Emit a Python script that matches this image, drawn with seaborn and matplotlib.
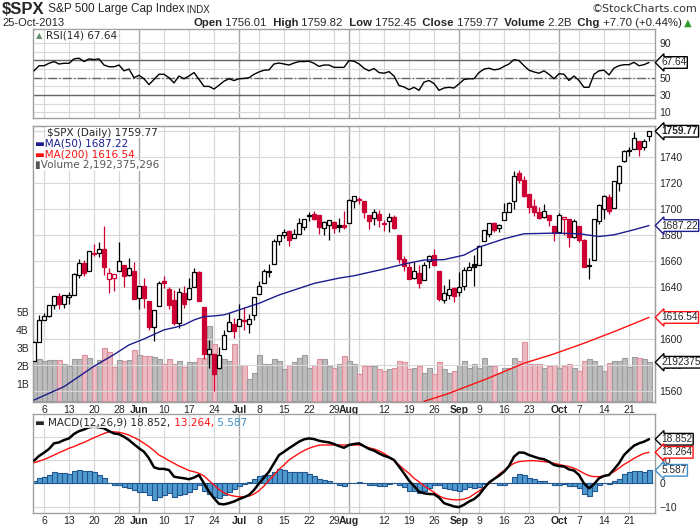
import numpy as np
import pandas as pd
import matplotlib
matplotlib.use("Agg")
import matplotlib.pyplot as plt
import seaborn as sns

# ---- values ($SPX daily, 2-May-2013 .. 25-Oct-2013) ----
opens = [
    1582.77, 1597.60, 1614.40, 1617.55, 1625.95, 1632.69, 1626.69, 1632.10, 1633.75, 1649.13,
    1658.07, 1652.45, 1665.71, 1666.20, 1669.39, 1646.08, 1646.67, 1652.63, 1656.57, 1649.14,
    1652.13, 1631.71, 1640.73, 1629.05, 1609.29, 1625.27, 1644.67, 1638.64, 1629.94, 1612.15,
    1635.52, 1630.64, 1639.77, 1651.83, 1624.62, 1588.62, 1588.77, 1577.52, 1592.27, 1606.44,
    1611.12, 1609.78, 1614.29, 1611.48, 1618.65, 1634.20, 1642.89, 1651.56, 1657.41, 1675.26,
    1679.59, 1682.70, 1677.91, 1681.05, 1686.15, 1694.41, 1696.06, 1695.52, 1685.21, 1687.31,
    1690.32, 1687.92, 1687.76, 1689.42, 1706.10, 1708.01, 1705.79, 1695.30, 1693.35, 1696.10,
    1688.37, 1690.65, 1693.88, 1679.61, 1661.22, 1655.25, 1646.81, 1650.66, 1645.03, 1659.92,
    1664.29, 1652.54, 1630.25, 1633.50, 1638.89, 1635.95, 1640.72, 1653.28, 1657.44, 1656.85,
    1675.11, 1681.04, 1689.21, 1685.04, 1691.70, 1697.73, 1705.74, 1727.34, 1722.44, 1711.44,
    1702.60, 1698.02, 1694.05, 1695.52, 1687.26, 1682.41, 1691.90, 1692.35, 1678.79, 1687.15,
    1676.22, 1656.99, 1660.88, 1691.09, 1699.86, 1709.17, 1700.49, 1720.17, 1736.72, 1745.20,
    1746.48, 1752.27, 1747.48, 1756.01]
highs = [
    1598.60, 1618.46, 1619.77, 1626.03, 1632.78, 1635.01, 1633.70, 1636.00, 1651.10, 1661.49,
    1660.51, 1667.47, 1672.84, 1674.93, 1687.18, 1654.19, 1649.78, 1674.21, 1656.57, 1661.91,
    1658.99, 1640.42, 1646.53, 1629.31, 1622.56, 1644.40, 1648.69, 1640.13, 1637.71, 1639.25,
    1640.80, 1646.50, 1654.19, 1652.45, 1624.62, 1599.19, 1588.77, 1593.79, 1606.83, 1620.07,
    1615.94, 1626.61, 1624.26, 1618.97, 1632.07, 1644.68, 1654.18, 1657.92, 1676.63, 1680.19,
    1684.51, 1683.73, 1684.75, 1693.12, 1692.09, 1697.61, 1698.38, 1695.52, 1690.94, 1691.85,
    1690.92, 1693.19, 1698.43, 1707.85, 1709.67, 1709.24, 1705.79, 1695.30, 1700.18, 1699.42,
    1691.49, 1696.81, 1695.52, 1679.61, 1663.60, 1659.18, 1658.92, 1656.99, 1659.55, 1664.85,
    1669.51, 1652.54, 1641.18, 1646.41, 1640.08, 1651.35, 1655.72, 1659.17, 1664.83, 1672.40,
    1684.09, 1689.13, 1689.97, 1688.73, 1704.95, 1705.52, 1729.44, 1729.86, 1725.23, 1711.44,
    1707.63, 1701.71, 1703.85, 1695.52, 1687.26, 1696.55, 1693.87, 1692.35, 1691.94, 1687.15,
    1676.79, 1662.40, 1692.56, 1703.44, 1711.03, 1711.57, 1721.76, 1733.45, 1745.31, 1747.79,
    1759.33, 1752.27, 1753.55, 1759.82]
lows = [
    1582.77, 1597.60, 1614.21, 1616.64, 1622.70, 1623.09, 1623.71, 1626.74, 1633.75, 1646.68,
    1648.60, 1652.45, 1663.52, 1662.67, 1648.86, 1635.53, 1636.88, 1652.63, 1640.05, 1648.61,
    1630.74, 1622.72, 1623.62, 1607.09, 1598.23, 1625.27, 1639.26, 1622.92, 1610.92, 1608.07,
    1623.96, 1630.34, 1639.77, 1628.91, 1584.32, 1577.70, 1560.33, 1577.09, 1592.27, 1606.44,
    1601.06, 1609.78, 1606.77, 1604.57, 1614.71, 1634.20, 1642.89, 1647.66, 1657.41, 1672.33,
    1677.89, 1671.84, 1677.91, 1681.05, 1684.08, 1690.67, 1691.13, 1680.88, 1680.07, 1676.03,
    1681.86, 1682.42, 1684.94, 1689.42, 1700.68, 1703.55, 1693.29, 1684.91, 1687.36, 1686.02,
    1683.35, 1682.62, 1684.83, 1658.59, 1652.61, 1645.84, 1646.08, 1639.43, 1645.03, 1654.81,
    1656.02, 1629.05, 1627.47, 1630.88, 1628.05, 1633.41, 1637.41, 1653.07, 1640.62, 1656.85,
    1675.11, 1678.70, 1681.96, 1682.22, 1691.70, 1697.73, 1700.18, 1720.20, 1708.89, 1697.10,
    1694.90, 1691.88, 1693.11, 1687.11, 1674.99, 1682.07, 1680.34, 1670.36, 1677.33, 1674.70,
    1655.03, 1646.47, 1660.88, 1688.52, 1692.13, 1695.93, 1700.49, 1714.12, 1735.74, 1740.67,
    1746.48, 1740.50, 1745.50, 1752.45]
closes = [
    1597.59, 1614.42, 1617.50, 1625.96, 1632.69, 1626.67, 1633.70, 1633.77, 1650.34, 1658.78,
    1650.47, 1667.47, 1666.29, 1669.16, 1655.35, 1650.51, 1649.60, 1660.06, 1648.36, 1654.41,
    1630.74, 1640.42, 1631.38, 1608.90, 1622.56, 1643.38, 1642.81, 1626.13, 1612.52, 1636.36,
    1626.73, 1639.04, 1651.81, 1628.93, 1588.19, 1592.43, 1573.09, 1588.03, 1603.26, 1613.20,
    1606.28, 1614.96, 1614.08, 1615.41, 1631.89, 1640.46, 1652.32, 1652.62, 1675.02, 1680.19,
    1682.50, 1676.26, 1680.91, 1689.37, 1692.09, 1695.53, 1692.39, 1685.94, 1690.25, 1691.65,
    1685.33, 1685.96, 1685.73, 1706.87, 1709.67, 1707.14, 1697.37, 1690.91, 1697.48, 1691.42,
    1689.47, 1694.16, 1685.39, 1661.32, 1655.83, 1646.06, 1652.35, 1642.80, 1656.96, 1663.50,
    1656.78, 1630.48, 1634.96, 1638.17, 1632.97, 1639.77, 1653.08, 1655.08, 1655.17, 1671.71,
    1683.99, 1689.13, 1683.42, 1687.99, 1697.60, 1704.76, 1725.52, 1722.34, 1709.91, 1701.84,
    1697.42, 1692.77, 1698.67, 1691.75, 1681.55, 1695.00, 1693.87, 1678.66, 1690.50, 1676.12,
    1655.45, 1656.40, 1692.56, 1703.20, 1710.14, 1698.06, 1721.54, 1733.15, 1744.50, 1744.66,
    1754.67, 1746.38, 1752.07, 1759.77]
# volume in billions of shares
volumes = [
    2.40, 2.40, 2.27, 2.34, 2.34, 2.34, 2.10, 2.00, 2.40, 2.40,
    2.60, 2.45, 2.05, 2.30, 3.00, 2.78, 1.90, 2.30, 2.25, 2.30,
    2.85, 2.60, 2.55, 2.55, 2.50, 2.40, 2.10, 2.40, 2.10, 2.25,
    1.90, 2.20, 2.20, 2.45, 2.45, 4.20, 3.20, 2.45, 2.40, 2.25,
    3.20, 2.05, 2.05, 1.23, 1.60, 2.62, 2.10, 2.10, 2.35, 2.25,
    1.79, 2.05, 2.18, 2.42, 2.62, 1.88, 2.05, 2.35, 2.35, 2.00,
    1.88, 2.10, 2.55, 2.29, 2.07, 1.55, 1.96, 1.96, 2.00, 1.83,
    1.70, 1.83, 1.85, 2.24, 2.18, 1.79, 1.88, 1.96, 1.60, 1.85,
    1.55, 2.18, 1.81, 1.60, 1.73, 2.05, 2.29, 1.88, 2.07, 1.88,
    2.44, 1.96, 1.96, 1.60, 1.88, 1.88, 2.44, 2.24, 3.30, 2.10,
    2.07, 2.07, 1.88, 1.99, 2.05, 1.88, 1.96, 2.10, 1.88, 1.73,
    2.29, 2.35, 2.24, 1.99, 1.68, 2.16, 2.29, 2.25, 2.44, 1.92,
    2.51, 2.44, 2.38, 2.192375296]
rsi = [
    58, 63.9, 63.9, 66.7, 68.7, 65.9, 66.7, 66.7, 71.8, 72.6,
    68.7, 71.8, 71, 71.8, 64.7, 62.7, 62.7, 64.7, 58, 60,
    50, 52.8, 48.8, 42.1, 48, 54, 54, 50, 44, 52,
    48.8, 52, 56, 48, 40, 40, 36.9, 41.3, 46, 48.8,
    46.8, 48.8, 49.2, 50, 54, 56.7, 58.7, 59.1, 65.9, 67,
    65.9, 64.7, 67, 68.7, 68.7, 69.1, 66.7, 63.1, 64.7, 64.7,
    62, 62, 62, 69.8, 69.1, 66, 61, 58, 60.7, 56,
    55.2, 57.1, 52, 41, 39.3, 36.2, 38.9, 35.4, 44.9, 46.8,
    43.3, 35.4, 38.1, 38.9, 38.1, 42.9, 48, 48.8, 48.8, 56,
    60, 61.1, 59.1, 60, 63.1, 65.9, 71, 69.8, 63.9, 58.7,
    56.7, 55.2, 58, 54, 48.8, 54.7, 54, 46.8, 52, 46.8,
    38.9, 38.9, 54, 58, 58.7, 53.2, 61.1, 63.9, 65.1, 65.1,
    67.8, 63.9, 65.1, 67.64]
macd = [
    9.7, 11.7, 13.1, 14.7, 17.1, 17.5, 18.5, 19.2, 21.1, 22.3,
    23, 23.9, 24.2, 23.9, 23.5, 22.3, 21.3, 21, 19.9, 18.5,
    16.7, 15, 13.5, 10.7, 6.9, 6.2, 6.2, 5.7, 2.9, 2.5,
    2.2, 1.8, 2.5, 3.6, 0, -3.5, -6.3, -8.7, -8.9, -8.4,
    -7.7, -6.7, -5.9, -4.9, -2.8, 0, 2.5, 5, 8.6, 12.1,
    13.5, 15, 16.4, 17.8, 18.8, 19.2, 18.9, 18.2, 17.8, 17.5,
    16.8, 15.9, 15.2, 16.4, 16.8, 17.1, 15.9, 14.7, 14, 12.8,
    11.8, 11.1, 10, 7.2, 4.3, 1.2, -1.1, -3.5, -4.2, -4.5,
    -4.6, -6, -8.4, -9.1, -9.8, -10.1, -9.1, -7.7, -6.7, -4.9,
    -2.1, 0.4, 1.9, 3.3, 5, 7.4, 11.4, 13.2, 13.1, 12.1,
    11.4, 10.7, 10.3, 9.3, 7.9, 7.4, 7.2, 6, 5.5, 3.6,
    0, -2.1, -0.3, 2.2, 3.2, 3.6, 6, 8.6, 12.1, 14.2,
    16.1, 17.1, 17.8, 18.852]
signal = [
    8.8, 9.5, 10.2, 11.1, 12.1, 13.1, 14, 15, 15.7, 16.7,
    17.5, 18.5, 19.5, 20.4, 21.3, 22, 22, 21.8, 21.3, 20.6,
    19.6, 18.5, 17.1, 15.7, 14, 12.1, 11, 9.7, 8.6, 7.4,
    6.5, 5.5, 5, 4.3, 3.2, 1.2, -0.7, -2.6, -4, -4.9,
    -5.4, -5.7, -5.7, -5.4, -4.5, -3.1, -1.1, 1.4, 3.6, 6,
    7.9, 10, 11.4, 12.8, 14, 15, 15.7, 16.3, 16.4, 16.4,
    16.4, 16.4, 16.4, 16.4, 16.4, 16.4, 15.9, 15.2, 14.7, 13.9,
    12.8, 11.4, 9.7, 7.9, 6, 4.3, 2.2, 0.7, -1, -2.4,
    -3.8, -5.3, -6.3, -6.7, -7, -7, -6.7, -6, -4.6, -3.2,
    -1.7, 0, 1.8, 3.9, 5.5, 7.2, 8.6, 9.3, 9.5, 9.7,
    9.7, 9.5, 9.3, 9, 8.6, 8.1, 7.6, 7.2, 6.5, 5.5,
    4.3, 3.3, 2.9, 2.9, 3.2, 3.9, 5, 6.5, 8.1, 9.3,
    10.7, 11.8, 12.8, 13.264]
# moving averages, read at a handful of trading-day positions
ma50_day = [0, 6, 12, 16, 19, 22, 26, 28, 30, 32, 34, 36, 38, 40, 42, 45, 49, 56, 61, 64,
            70, 74, 78, 82, 86, 89, 94, 98, 104, 109, 113, 116, 120, 123]
ma50 = [1553.0, 1563.3, 1579.0, 1588.0, 1595.4, 1600.0, 1607.0, 1608.7, 1610.8, 1614.6,
        1617.2, 1617.7, 1618.5, 1621.0, 1623.6, 1627.4, 1633.8, 1642.7, 1646.8, 1648.6,
        1653.8, 1657.6, 1660.7, 1661.0, 1664.5, 1670.6, 1677.0, 1680.9, 1681.4, 1680.9,
        1678.8, 1680.1, 1684.0, 1687.22]
ma200_day = [78, 82, 83, 90, 98, 104, 110, 116, 123]
ma200 = [1552.0, 1556.9, 1558.2, 1568.5, 1581.3, 1588.5, 1596.7, 1605.6, 1616.54]
hist_last = 5.587

holidays = ['2013-05-27', '2013-07-04', '2013-09-02']

# ---- trading calendar ----
dates = pd.bdate_range('2013-05-02', '2013-10-25')
dates = dates[~dates.isin(pd.to_datetime(holidays))]
n = len(dates)
x = np.arange(n)

df = pd.DataFrame({'open': opens, 'high': highs, 'low': lows, 'close': closes,
                   'volume': volumes, 'rsi': rsi, 'macd': macd, 'signal': signal}, index=dates)
df['hist'] = df['macd'] - df['signal']
df['down'] = df['close'] < df['close'].shift(1).fillna(df['open'])
df['filled'] = df['close'] < df['open']

RED = '#cc0033'
GRID = '#d8d8d8'
MONTH_GRID = '#a8a8a8'
FRAME = '#a0a0a0'

sns.set_style('white')
plt.rcParams['font.family'] = ['Liberation Sans', 'DejaVu Sans']
LEG = ['DejaVu Sans']

# tick positions: first trading day of each month / week
new_month = [i for i in range(1, n) if dates[i].month != dates[i - 1].month]
new_week = [i for i in range(1, n) if dates[i].weekday() < dates[i - 1].weekday()]
week_lbl = [i for i in new_week if min(abs(i - m) for m in new_month) >= 3]
week_grid = [i for i in new_week if min(abs(i - m) for m in new_month) >= 2]
tick_pos = sorted(new_month + week_lbl)
tick_lab = [dates[i].strftime('%b') if i in new_month else str(dates[i].day) for i in tick_pos]

fig = plt.figure(figsize=(7, 5.3), dpi=100)
W, H = 700, 530
left, width = 33 / W, 622 / W
ax_r = fig.add_axes([left, 1 - 118 / H, width, 89 / H])
ax_v = fig.add_axes([left, 1 - 402 / H, width, 276 / H])
ax_p = ax_v.twinx()
ax_m = fig.add_axes([left, 1 - 513 / H, width, 99 / H])


def panel(ax):
    ax.set_xlim(-0.2, n + 0.2)
    for i in week_grid:
        ax.axvline(i, color=GRID, lw=0.9, zorder=0)
    for i in new_month:
        ax.axvline(i, color=MONTH_GRID, lw=1.0, zorder=0)
    for s in ax.spines.values():
        s.set_color(FRAME)
        s.set_linewidth(1)
    ax.tick_params(length=0, labelsize=7.5, pad=3)


def date_ticks(ax):
    ax.set_xticks(tick_pos)
    ax.set_xticklabels(tick_lab)
    for lab in ax.get_xticklabels():
        if lab.get_text().isalpha():
            lab.set_fontweight('bold')
    ax.tick_params(axis='x', pad=2)


def tag(ax, yval, text, edge, ytrans=None, bold=False):
    ax.annotate(text, xy=(1, yval), xycoords=('axes fraction', ytrans if ytrans else ax.transData),
                xytext=(4.5, 0), textcoords='offset points', ha='left', va='center',
                fontsize=7.3, fontweight='bold' if bold else 'normal', annotation_clip=False,
                bbox=dict(boxstyle='larrow,pad=0.08', fc='white', ec=edge, lw=1), zorder=20)


# ---- RSI panel ----
panel(ax_r)
ax_r.set_ylim(3.4, 106.4)
for v in range(10, 100, 10):
    ax_r.axhline(v, color=GRID, lw=0.8, zorder=0)
ax_r.axhline(70, color='#666666', lw=1, zorder=1)
ax_r.axhline(30, color='#666666', lw=1, zorder=1)
ax_r.axhline(50, color='#666666', lw=1, ls='-.', zorder=1)
sns.lineplot(x=x, y=df['rsi'].values, ax=ax_r, color='black', lw=1, zorder=3)
ax_r.yaxis.tick_right()
ax_r.set_yticks([10, 30, 50, 90])
ax_r.set_xticks([])
ax_r.text(0.004, 0.93, '▲', transform=ax_r.transAxes, fontsize=6, color='#6b8f6b',
          family=LEG, va='center', ha='left')
ax_r.text(0.021, 0.93, f'RSI(14) {rsi[-1]:.2f}', transform=ax_r.transAxes, fontsize=7.5,
          family=LEG, va='center', ha='left',
          bbox=dict(fc='white', ec='none', pad=0.5))
tag(ax_r, rsi[-1], f'{rsi[-1]:.2f}', 'black')

# ---- price + volume panel ----
panel(ax_v)
vol_face = np.where(df['down'], '#ebbac2', '#bcbcbc')
vol_edge = np.where(df['down'], '#dd8f9c', '#9c9c9c')
ax_v.bar(x, df['volume'], width=1.0, color=vol_face, edgecolor=vol_edge, lw=0.8, zorder=1)
ax_v.set_ylim(-0.03, 15.4)
ax_v.set_yticks([1, 2, 3, 4, 5])
ax_v.set_yticklabels([f'{v}B' for v in range(1, 6)])
date_ticks(ax_v)

ax_p.set_ylim(1551.5, 1763.8)
for v in range(1560, 1761, 20):
    ax_p.axhline(v, color=GRID, lw=0.8, zorder=0)
line_col = np.where(df['down'], RED, 'black')
face_col = [c if f else 'white' for c, f in zip(line_col, df['filled'])]
ax_p.vlines(x, df['low'], df['high'], colors=line_col, lw=0.9, zorder=3)
body_low = np.minimum(df['open'], df['close'])
body_h = np.maximum((df['close'] - df['open']).abs(), 0.35)
ax_p.bar(x, body_h, bottom=body_low, width=0.75, color=face_col, edgecolor=line_col,
         lw=0.9, zorder=4)
sns.lineplot(x=ma50_day, y=ma50, ax=ax_p, color='#1c1c8f', lw=1, zorder=5)
sns.lineplot(x=ma200_day, y=ma200, ax=ax_p, color='#ff1010', lw=1, zorder=5)
# 1620 sits under the MA(200) tag in the original, so it is left out
ax_p.set_yticks([v for v in range(1560, 1741, 20) if v != 1620])
ax_p.tick_params(length=0, labelsize=7.5, pad=3)
for s in ax_p.spines.values():
    s.set_color(FRAME)
ax_p.set_ylabel('')

leg_y = [0.975, 0.935, 0.895, 0.857]
ax_p.text(0.022, leg_y[0], f'\\$SPX (Daily) {closes[-1]:.2f}', transform=ax_p.transAxes,
          fontsize=7.5, family=LEG, va='center', zorder=15,
          bbox=dict(fc='white', ec='none', pad=0.4, alpha=0.85))
ax_p.text(0.003, leg_y[1], f'▬MA(50) {ma50[-1]:.2f}', transform=ax_p.transAxes, color='#1c1c8f',
          fontsize=7.5, family=LEG, va='center', zorder=15,
          bbox=dict(fc='white', ec='none', pad=0.4, alpha=0.85))
ax_p.text(0.003, leg_y[2], f'▬MA(200) {ma200[-1]:.2f}', transform=ax_p.transAxes, color='#ff1010',
          fontsize=7.5, family=LEG, va='center', zorder=15,
          bbox=dict(fc='white', ec='none', pad=0.4, alpha=0.85))
ax_p.text(0.003, leg_y[3], f'▮Volume {volumes[-1] * 1e9:,.0f}', transform=ax_p.transAxes,
          color='#555555', fontsize=7.5, family=LEG, va='center', zorder=15,
          bbox=dict(fc='white', ec='none', pad=0.4, alpha=0.85))

tag(ax_p, closes[-1], f'{closes[-1]:.2f}', 'black', bold=True)
tag(ax_p, ma50[-1], f'{ma50[-1]:.2f}', '#1c1c8f')
tag(ax_p, ma200[-1], f'{ma200[-1]:.2f}', '#ff1010')
tag(ax_p, volumes[-1], f'{volumes[-1] * 1e6:.0f}', 'black', ytrans=ax_v.transData)

# ---- MACD panel ----
panel(ax_m)
ax_m.set_ylim(-12.6, 29.6)
for v in (-10, 0, 10, 20):
    ax_m.axhline(v, color=GRID, lw=0.8, zorder=0)
ax_m.bar(x, df['hist'], width=1.0, color='#4f9bd0', edgecolor='#23568f', lw=0.8, zorder=2)
sns.lineplot(x=x, y=df['signal'].values, ax=ax_m, color='#ff1010', lw=1, zorder=3)
sns.lineplot(x=x, y=df['macd'].values, ax=ax_m, color='black', lw=1.8, zorder=4)
ax_m.yaxis.tick_right()
ax_m.set_yticks([-10, 0, 10])
date_ticks(ax_m)
t = ax_m.text(0.004, 0.86, f'▬ MACD(12,26,9) {macd[-1]:.3f},', transform=ax_m.transAxes,
              fontsize=7.5, family=LEG, va='bottom', ha='left', zorder=15,
              bbox=dict(fc='white', ec='none', pad=0.4, alpha=0.85))
t = ax_m.annotate(f' {signal[-1]:.3f},', xy=(1, 0), xycoords=t, va='bottom', ha='left',
                  fontsize=7.5, family=LEG, color='#ff1010', zorder=15)
ax_m.annotate(f' {hist_last:.3f}', xy=(1, 0), xycoords=t, va='bottom',
              ha='left', fontsize=7.5, family=LEG, color='#3f8fc8', zorder=15)
tag(ax_m, macd[-1], f'{macd[-1]:.3f}', 'black')
tag(ax_m, signal[-1], f'{signal[-1]:.3f}', '#ff1010')
tag(ax_m, df['hist'].iloc[-1], f'{hist_last:.3f}', '#3f8fc8')

# ---- header ----
ax_h = fig.add_axes([0, 0, 1, 1])
ax_h.axis('off')
ax_h.patch.set_visible(False)
t = ax_h.text(2 / W, 1 - 9 / H, '\\$SPX', fontsize=12, fontweight='bold', va='center', ha='left')
t = ax_h.annotate(' S&P 500 Large Cap Index', xy=(1, 0.12), xycoords=t, va='bottom', ha='left',
                  fontsize=8.5)
ax_h.annotate(' INDX', xy=(1, 0), xycoords=t, va='bottom', ha='left', fontsize=7)
ax_h.text(697 / W, 1 - 9 / H, '©StockCharts.com', fontsize=8, color='#333333', family=LEG,
          va='center', ha='right')
ax_h.text(2 / W, 1 - 23 / H, '25-Oct-2013', fontsize=8, va='center', ha='left')

head = [('Open', 'bold'), (f' {opens[-1]:.2f}', 'normal'), ('  High', 'bold'),
        (f' {highs[-1]:.2f}', 'normal'), ('  Low', 'bold'), (f' {lows[-1]:.2f}', 'normal'),
        ('  Close', 'bold'), (f' {closes[-1]:.2f}', 'normal'), ('  Volume', 'bold'),
        (' 2.2B', 'normal'), ('  Chg', 'bold'), (' +7.70 (+0.44%)', 'normal')]
t = ax_h.text(692 / W, 1 - 23 / H, ' ▲', fontsize=7, color='#2a9a2a', va='center', ha='right',
              family=LEG)
for txt, wt in reversed(head):
    t = ax_h.annotate(txt, xy=(0, 0.5), xycoords=t, va='center', ha='right', fontsize=8.2,
                      fontweight=wt)

fig.savefig('out.png', dpi=100)
